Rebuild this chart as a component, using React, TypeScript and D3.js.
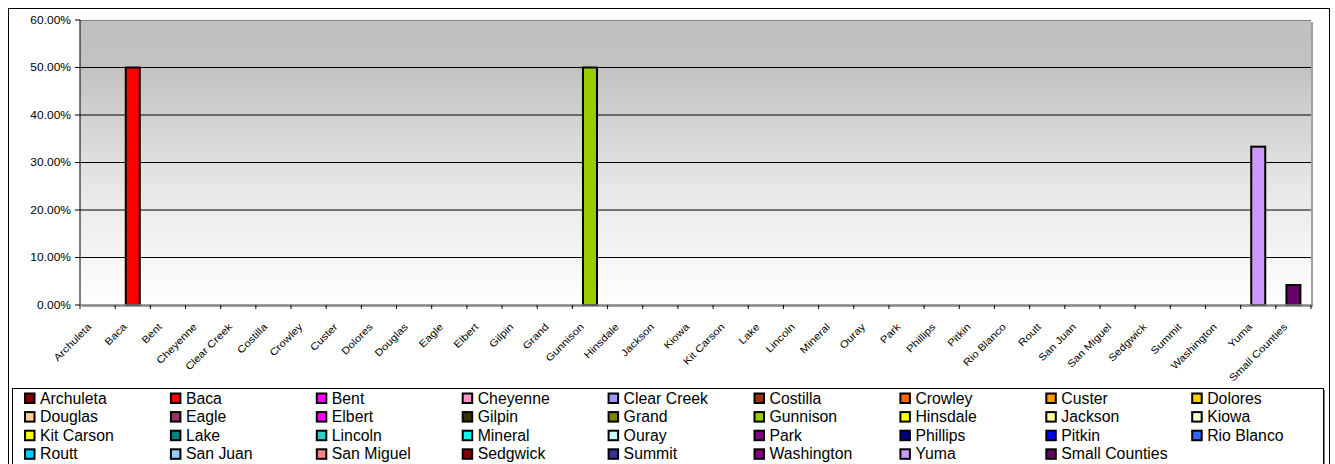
import React from "react";
import * as d3 from "d3";

const categories = [
  "Archuleta", "Baca", "Bent", "Cheyenne", "Clear Creek", "Costilla", "Crowley", "Custer", "Dolores",
  "Douglas", "Eagle", "Elbert", "Gilpin", "Grand", "Gunnison", "Hinsdale", "Jackson", "Kiowa",
  "Kit Carson", "Lake", "Lincoln", "Mineral", "Ouray", "Park", "Phillips", "Pitkin", "Rio Blanco",
  "Routt", "San Juan", "San Miguel", "Sedgwick", "Summit", "Washington", "Yuma", "Small Counties",
];

const values = [
  0, 0.5, 0, 0, 0, 0, 0, 0, 0,
  0, 0, 0, 0, 0, 0.5, 0, 0, 0,
  0, 0, 0, 0, 0, 0, 0, 0, 0,
  0, 0, 0, 0, 0, 0, 0.3333, 0.042,
];

const colors = [
  "#800000", "#FF0000", "#FF00FF", "#FF99CC", "#9999FF", "#993300", "#FF6600", "#FF9900", "#FFCC00",
  "#FFCC99", "#993366", "#FF00FF", "#333300", "#808000", "#99CC00", "#FFFF00", "#FFFF99", "#FFFFCC",
  "#FFFF00", "#008080", "#33CCCC", "#00FFFF", "#CCFFFF", "#800080", "#000080", "#0000FF", "#3366FF",
  "#00CCFF", "#99CCFF", "#FF8080", "#800000", "#333399", "#800080", "#CC99FF", "#660066",
];

const yTicks = [0, 0.1, 0.2, 0.3, 0.4, 0.5, 0.6];

const W = 1335;
const H = 464;
const plot = { left: 80, right: 1311, top: 20, bottom: 305 };

export default function App() {
  const x = d3.scaleBand<string>().domain(categories).range([plot.left, plot.right]).padding(0);
  const y = d3.scaleLinear().domain([0, 0.6]).range([plot.bottom, plot.top]);
  const barW = 14;
  const fmt = d3.format(".2%");
  const font = "Arial, 'Liberation Sans', sans-serif";

  const legendCols = 9;
  const legendLeft = 24;
  const legendColW = 145.9;
  const legendTop = 398;
  const legendRowH = 18.6;

  return (
    <svg width={W} height={H} style={{ position: "absolute", left: 0, top: 0 }} fontFamily={font}>
      <defs>
        <linearGradient id="bg" x1="0" y1="0" x2="0" y2="1">
          <stop offset="0" stopColor="#c0c0c0" />
          <stop offset="0.17" stopColor="#c2c2c2" />
          <stop offset="0.6" stopColor="#e8e8e8" />
          <stop offset="1" stopColor="#ffffff" />
        </linearGradient>
      </defs>
      <rect x={0} y={0} width={W} height={H} fill="#fff" />
      {/* outer chart border */}
      <rect x={8.5} y={8.5} width={1321} height={470} fill="#fff" stroke="#000" strokeWidth={1} />
      {/* plot area shadow */}
      <rect x={plot.left + 2} y={plot.top + 2} width={plot.right - plot.left} height={plot.bottom - plot.top} fill="#a0a0a0" />
      <rect x={plot.left} y={plot.top} width={plot.right - plot.left} height={plot.bottom - plot.top} fill="url(#bg)" />
      <line x1={plot.left} x2={plot.right} y1={plot.top + 0.5} y2={plot.top + 0.5} stroke="#808080" />
      {/* gridlines */}
      {yTicks.slice(1, -1).map((t) => (
        <line key={"g" + t} x1={plot.left} x2={plot.right} y1={y(t)} y2={y(t)} stroke="#000" strokeWidth={1} />
      ))}
      {/* bars */}
      {categories.map((c, i) =>
        values[i] > 0 ? (
          <rect
            key={"b" + c}
            x={(x(c) as number) + x.bandwidth() / 2 - barW / 2}
            y={y(values[i])}
            width={barW}
            height={plot.bottom - y(values[i])}
            fill={colors[i]}
            stroke="#000"
            strokeWidth={2}
          />
        ) : null
      )}
      {/* axes */}
      <line x1={plot.left} x2={plot.left} y1={plot.top} y2={plot.bottom} stroke="#000" strokeWidth={1} />
      <line x1={plot.left} x2={plot.right} y1={plot.bottom} y2={plot.bottom} stroke="#808080" strokeWidth={1.5} />
      {yTicks.map((t) => (
        <g key={"yt" + t}>
          <line x1={plot.left - 5} x2={plot.left} y1={y(t)} y2={y(t)} stroke="#000" />
          <text
            transform={`translate(${plot.left - 9},${y(t)}) scale(1.2,1)`}
            dy="0.35em"
            textAnchor="end"
            fontSize={10}
          >
            {fmt(t)}
          </text>
        </g>
      ))}
      {categories.map((c) => (
        <line
          key={"xt" + c}
          x1={x(c) as number}
          x2={x(c) as number}
          y1={plot.bottom}
          y2={plot.bottom + 4}
          stroke="#000"
        />
      ))}
      <line x1={plot.right} x2={plot.right} y1={plot.bottom} y2={plot.bottom + 4} stroke="#000" />
      {categories.map((c) => {
        const cx = (x(c) as number) + x.bandwidth() / 2;
        return (
          <text
            key={"xl" + c}
            transform={`translate(${cx - 8},${plot.bottom + 20}) rotate(-45) scale(1.15,1)`}
            textAnchor="end"
            dy="0.35em"
            fontSize={10}
          >
            {c}
          </text>
        );
      })}
      {/* legend */}
      <rect x={14} y={390} width={1311} height={80} fill="#808080" />
      <rect x={12.5} y={388.5} width={1311} height={80} fill="#fff" stroke="#000" strokeWidth={1} />
      {categories.map((c, i) => {
        const col = i % legendCols;
        const row = Math.floor(i / legendCols);
        const lx = legendLeft + col * legendColW;
        const ly = legendTop + row * legendRowH;
        return (
          <g key={"l" + c}>
            <rect x={lx + 1} y={ly - 4.5} width={9.5} height={9.5} fill={colors[i]} stroke="#000" strokeWidth={2} />
            <text x={lx + 16} y={ly} dy="0.36em" fontSize={15.8}>
              {c}
            </text>
          </g>
        );
      })}
    </svg>
  );
}
